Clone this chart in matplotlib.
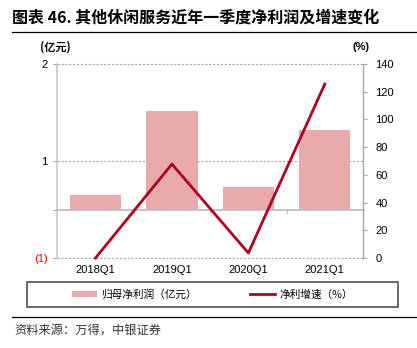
import matplotlib
matplotlib.use('Agg')
import matplotlib.pyplot as plt
from matplotlib.lines import Line2D
from matplotlib.patches import Rectangle, Patch

plt.rcParams['font.family'] = ['Liberation Sans', 'Noto Sans CJK SC']
cjk = ['Noto Sans CJK SC', 'DejaVu Sans']

# data
quarters = ['2018Q1', '2019Q1', '2020Q1', '2021Q1']
profit = [0.23, 1.53, 0.36, 1.24]        # 归母净利润 (亿元), bar heights
growth = [0.0, 67.8, 3.6, 125.5]         # 净利增速 (%)
left_ticks = [-1, 0.5, 2]
left_labels = ['(1)', '1', '2']
right_ticks = [0, 20, 40, 60, 80, 100, 120, 140]

bar_color = '#E8AAAA'
line_color = '#B00020'
base = -0.26

fig = plt.figure(figsize=(4.17, 3.48), dpi=100)
ax = fig.add_axes([57.3 / 417, 1 - 258 / 348, (363 - 57.3) / 417, (258 - 64) / 348])
ax2 = ax.twinx()

x = range(len(quarters))
ax.bar(x, profit, bottom=base, width=0.67, color=bar_color, zorder=2)
ax.axhline(base, color='#BFBFBF', lw=1.3, zorder=3)
for b in [0.5, 1.5, 2.5]:
    ax.plot([b, b], [base, base - 0.05], color='#BFBFBF', lw=1, zorder=3)

ax.set_xlim(-0.5, 3.5)
ax.set_ylim(-1, 2)
ax.set_yticks(left_ticks + [base])
ax.set_yticklabels(left_labels + [''])
ax.get_yticklabels()[0].set_color('#FF0000')
ax.set_xticks(list(x))
ax.set_xticklabels(quarters)
ax.tick_params(axis='x', length=0, pad=5, labelsize=8)
ax.tick_params(axis='y', length=3, pad=4, labelsize=8, color='#A6A6A6')
for v in left_ticks:
    ax.axhline(v, color='#A6A6A6', lw=0.8, ls=(0, (2, 1.5)), zorder=1, clip_on=False)

for s in ['top', 'bottom', 'right']:
    ax.spines[s].set_visible(False)
ax.spines['left'].set_color('#C8C8C8')
ax.spines['left'].set_linewidth(1.2)

ax2.plot(list(x), growth, color=line_color, lw=2, clip_on=False, zorder=5)
ax2.set_ylim(0, 140)
ax2.set_yticks(right_ticks)
ax2.tick_params(axis='y', length=3, pad=6, labelsize=8, color='#A6A6A6')
for s in ['top', 'bottom', 'left']:
    ax2.spines[s].set_visible(False)
ax2.spines['right'].set_color('#A6A6A6')
ax2.spines['right'].set_linewidth(1)

fig.text(40 / 417, 1 - 47 / 348, '(亿元)', family=cjk, fontsize=8, fontweight='bold',
         va='center', ha='left')
fig.text(361 / 417, 1 - 47 / 348, '(%)', fontsize=8, fontweight='bold',
         va='center', ha='center')

# title and rules
fig.text(12 / 417, 1 - 18 / 348, '图表 46. 其他休闲服务近年一季度净利润及增速变化',
         family=cjk, fontsize=11.5, fontweight='bold', va='center', ha='left')
fig.add_artist(Line2D([12 / 417, 1], [1 - 32 / 348] * 2, color='black', lw=0.9))
fig.add_artist(Line2D([12 / 417, 1], [1 - 317 / 348] * 2, color='black', lw=0.9))
fig.text(14 / 417, 1 - 330 / 348, '资料来源：万得，中银证券', family=cjk, fontsize=8.8,
         color='#333333', va='center', ha='left')

# legend
fig.add_artist(Rectangle((27 / 417, 1 - 307 / 348), (398 - 27) / 417, 25 / 348,
                         fill=False, edgecolor='#404040', lw=1.1))
handles = [Patch(facecolor=bar_color, edgecolor='none'),
           Line2D([], [], color=line_color, lw=2)]
fig.legend(handles, ['归母净利润（亿元）', '净利增速（%）'], loc='center',
           bbox_to_anchor=(212.5 / 417, 1 - 294.5 / 348), ncol=2, frameon=False,
           prop={'family': cjk, 'size': 7.7}, handlelength=2.3, handleheight=0.55,
           handletextpad=0.4, columnspacing=5.0, borderpad=0)

fig.savefig('out.png', dpi=100)
